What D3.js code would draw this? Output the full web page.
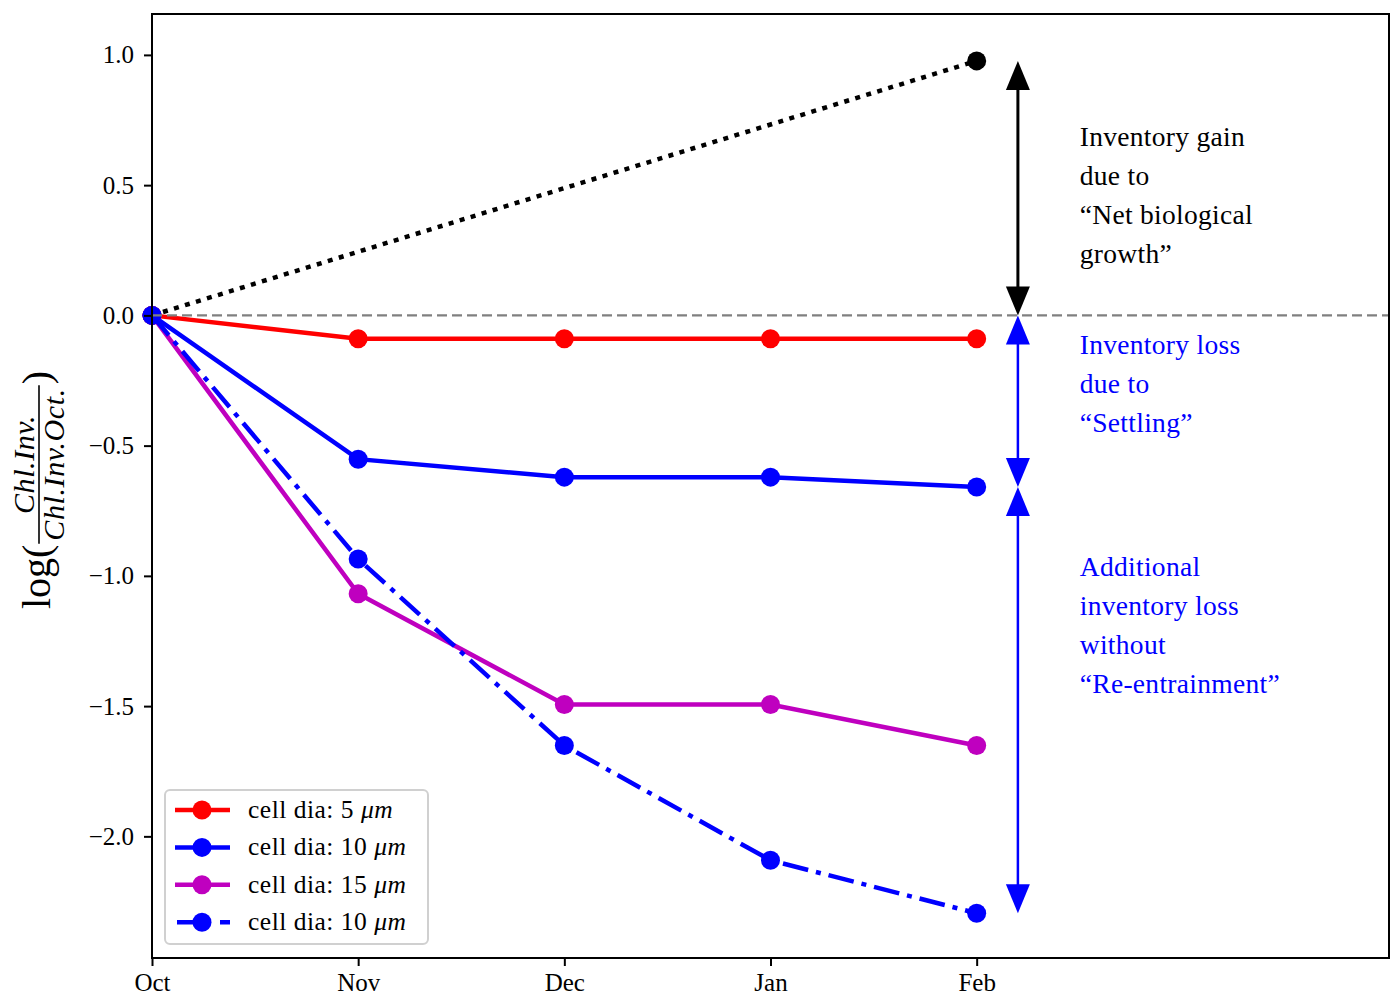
<!DOCTYPE html>
<html>
<head>
<meta charset="utf-8">
<script src="https://cdn.jsdelivr.net/npm/d3@7"></script>
<style>
  body { margin: 0; background: #fff; }
  svg text { font-family: "Liberation Serif", "DejaVu Serif", serif; }
</style>
</head>
<body>
<div id="chart"></div>
<script>
const months = ["Oct", "Nov", "Dec", "Jan", "Feb"];
const yTicks = [1.0, 0.5, 0.0, -0.5, -1.0, -1.5, -2.0];

const growth = [0.0, 0.977];          // dotted black, Oct -> Feb only
const growthMonths = [0, 4];
const dia5 = [0.0, -0.09, -0.09, -0.09, -0.09];
const dia10 = [0.0, -0.552, -0.621, -0.621, -0.659];
const dia15 = [0.0, -1.069, -1.494, -1.494, -1.651];
const dia10NoRe = [0.0, -0.935, -1.651, -2.092, -2.295];

const legendLabels = ["5", "10", "15", "10"];

const gainText = ["Inventory gain", "due to", "\u201cNet biological", "growth\u201d"];
const settleText = ["Inventory loss", "due to", "\u201cSettling\u201d"];
const reText = ["Additional", "inventory loss", "without", "\u201cRe-entrainment\u201d"];

const width = 1392, height = 998;
const margin = {top: 14, right: 3, bottom: 40, left: 152};
const plotW = width - margin.left - margin.right;
const plotH = height - margin.top - margin.bottom;

const svg = d3.select("#chart").append("svg")
    .attr("width", width)
    .attr("height", height);

const x = d3.scaleLinear().domain([0, 6]).range([margin.left, margin.left + plotW]);
const y = d3.scaleLinear().domain([-2.467, 1.157]).range([margin.top + plotH, margin.top]);

const series = [
    {values: dia5, color: "#ff0000", dash: null},
    {values: dia10, color: "#0000ff", dash: null},
    {values: dia15, color: "#bf00bf", dash: null},
    {values: dia10NoRe, color: "#0000ff", dash: "26,8,5,8"}
];

const line = d3.line().x(d => x(d[0])).y(d => y(d[1]));

// dotted growth line
const gPts = growthMonths.map((m, i) => [m, growth[i]]);
svg.append("path")
    .attr("d", line(gPts))
    .attr("fill", "none")
    .attr("stroke", "#000")
    .attr("stroke-width", 4.5)
    .attr("stroke-dasharray", "5,6.5");
svg.selectAll(".gdot").data(gPts).enter().append("circle")
    .attr("cx", d => x(d[0])).attr("cy", d => y(d[1]))
    .attr("r", 9.5).attr("fill", "#000");

series.forEach(s => {
    const pts = s.values.map((v, i) => [i, v]);
    svg.append("path")
        .attr("d", line(pts))
        .attr("fill", "none")
        .attr("stroke", s.color)
        .attr("stroke-width", 4.5)
        .attr("stroke-dasharray", s.dash);
    svg.append("g").selectAll("circle").data(pts).enter().append("circle")
        .attr("cx", d => x(d[0])).attr("cy", d => y(d[1]))
        .attr("r", 9.5).attr("fill", s.color);
});

// zero reference line
svg.append("line")
    .attr("x1", x(0)).attr("x2", x(6))
    .attr("y1", y(0)).attr("y2", y(0))
    .attr("stroke", "#808080")
    .attr("stroke-width", 2.2)
    .attr("stroke-dasharray", "10,5");

// double headed arrows
const arrowX = 4.2;
function arrow(yA, yB, color, sw) {
    const xa = x(arrowX);
    const pA = y(yA), pB = y(yB);
    const hl = 29, hw = 12;
    const dir = pB > pA ? 1 : -1;
    svg.append("line")
        .attr("x1", xa).attr("x2", xa)
        .attr("y1", pA + dir * hl * 0.5).attr("y2", pB - dir * hl * 0.5)
        .attr("stroke", color).attr("stroke-width", sw);
    [[pA, -dir], [pB, dir]].forEach(([tip, d]) => {
        svg.append("path")
            .attr("d", `M${xa},${tip} L${xa - hw},${tip - d * hl} L${xa + hw},${tip - d * hl} Z`)
            .attr("fill", color);
    });
}
arrow(0, growth[1], "#000", 3);
arrow(0, dia10[4], "#0000ff", 2.5);
arrow(dia10[4], dia10NoRe[4], "#0000ff", 2.5);

// annotations
function block(lines, yBase, color) {
    const t = svg.append("text")
        .attr("x", x(4.5))
        .attr("y", yBase)
        .attr("font-size", 27.5)
        .attr("letter-spacing", 0.3)
        .attr("fill", color);
    lines.forEach((l, i) => {
        t.append("tspan").attr("x", x(4.5)).attr("dy", i === 0 ? 0 : 39).text(l);
    });
}
block(gainText, y(0.651), "#000");
block(settleText, y(0) + 39, "#0000ff");
block(reText, y(-1.0), "#0000ff");

// axes
const xAxis = d3.axisBottom(x).tickValues(d3.range(months.length))
    .tickFormat(i => months[i]).tickSize(8).tickPadding(7);
const yAxis = d3.axisLeft(y).tickValues(yTicks)
    .tickFormat(d3.format(".1f")).tickSize(8).tickPadding(10);

const gx = svg.append("g").attr("transform", `translate(0,${margin.top + plotH})`).call(xAxis);
const gy = svg.append("g").attr("transform", `translate(${margin.left},0)`).call(yAxis);
[gx, gy].forEach(g => {
    g.select(".domain").remove();
    g.selectAll(".tick line").attr("stroke", "#000").attr("stroke-width", 2);
    g.selectAll(".tick text").attr("font-size", 25).attr("fill", "#000")
        .attr("font-family", "Liberation Serif, serif");
});

svg.append("rect")
    .attr("x", margin.left).attr("y", margin.top)
    .attr("width", plotW).attr("height", plotH)
    .attr("fill", "none").attr("stroke", "#000").attr("stroke-width", 2);

// legend
const leg = svg.append("g").attr("transform", "translate(165,790)");
leg.append("rect")
    .attr("width", 263).attr("height", 154).attr("rx", 5)
    .attr("fill", "#fff").attr("fill-opacity", 0.8)
    .attr("stroke", "#d0d0d0").attr("stroke-width", 2);
series.forEach((s, i) => {
    const cy = 20 + i * 37.4;
    leg.append("line")
        .attr("x1", s.dash ? 12 : 10).attr("x2", 65).attr("y1", cy).attr("y2", cy)
        .attr("stroke", s.color).attr("stroke-width", 4.5)
        .attr("stroke-dasharray", s.dash ? "30,13,10,20" : null);
    leg.append("circle").attr("cx", 37).attr("cy", cy).attr("r", 9.5).attr("fill", s.color);
    const t = leg.append("text").attr("x", 83).attr("y", cy + 8).attr("font-size", 25.5)
        .attr("letter-spacing", 0.5).attr("fill", "#000");
    t.append("tspan").text("cell dia:\u2005" + legendLabels[i] + "\u2005");
    t.append("tspan").attr("font-style", "italic").text("\u03bcm");
});

// y axis label: log( Chl.Inv. / Chl.Inv.Oct. )
const yl = svg.append("g");
const logT = yl.append("text").attr("x", 0).attr("y", 0).attr("font-size", 40).text("log(");
const logW = logT.node().getComputedTextLength();
const num = yl.append("text").attr("y", -16).attr("font-size", 30).attr("font-style", "italic")
    .attr("letter-spacing", 0.6).text("Chl.Inv.");
const den = yl.append("text").attr("y", 14).attr("font-size", 30).attr("font-style", "italic")
    .attr("letter-spacing", 0.6).text("Chl.Inv.Oct.");
const numW = num.node().getComputedTextLength();
const denW = den.node().getComputedTextLength();
const fracW = Math.max(numW, denW) + 6;
const fx = logW + 1;
num.attr("x", fx + (fracW - numW) / 2);
den.attr("x", fx + (fracW - denW) / 2);
yl.append("line").attr("x1", fx).attr("x2", fx + fracW).attr("y1", -11).attr("y2", -11)
    .attr("stroke", "#000").attr("stroke-width", 1.6);
const closeT = yl.append("text").attr("x", fx + fracW + 1).attr("y", 0).attr("font-size", 40).text(")");
const totalW = fx + fracW + 1 + closeT.node().getComputedTextLength();
yl.attr("transform", `translate(50,${490 + totalW / 2}) rotate(-90)`);
</script>
</body>
</html>
